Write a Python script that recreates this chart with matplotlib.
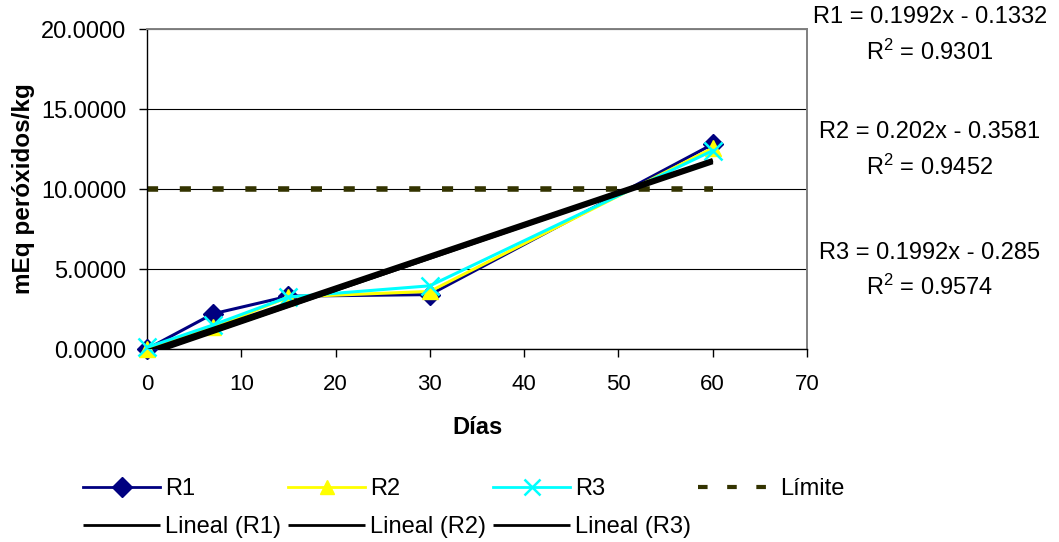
import matplotlib
matplotlib.use('Agg')
import matplotlib.pyplot as plt

# ---- data ----
dias = [0, 7, 15, 30, 60]
r1 = [0.0, 2.2, 3.3, 3.4, 12.8]
r2 = [0.0, 1.35, 3.25, 3.6, 12.55]
r3 = [0.1, 1.5, 3.25, 3.95, 12.4]
limite = [10, 10, 10, 10, 10]
series_names = ['R1', 'R2', 'R3']
trend_slopes = [0.1992, 0.202, 0.1992]
trend_intercepts = [-0.1332, -0.3581, -0.285]
r2_values = [0.9301, 0.9452, 0.9574]
yticks = [0, 5, 10, 15, 20]
xticks = [0, 10, 20, 30, 40, 50, 60, 70]

plt.rcParams['font.family'] = ['Liberation Sans', 'DejaVu Sans']
plt.rcParams['mathtext.fontset'] = 'custom'
plt.rcParams['mathtext.rm'] = 'Liberation Sans'
plt.rcParams['mathtext.it'] = 'Liberation Sans'
plt.rcParams['mathtext.default'] = 'regular'

W, H = 1059, 542
fig = plt.figure(figsize=(W / 100, H / 100), dpi=100)
ax = fig.add_axes([147 / W, 1 - 349 / H, 660 / W, 320 / H])
ax.set_xlim(0, 70)
ax.set_ylim(0, 20)

# gridlines
ax.set_yticks(yticks)
ax.set_yticklabels([f'{v:.4f}' for v in yticks], fontsize=17)
ax.set_xticks(xticks)
ax.set_xticklabels([str(v) for v in xticks], fontsize=16)
ax.yaxis.grid(True, color='black', lw=0.8)
ax.set_axisbelow(True)

# Límite
lim_line, = ax.plot(dias, limite, color='#333300', lw=4, zorder=2,
                    dash_capstyle='butt', solid_capstyle='butt')
lim_line.set_dashes([2, 3.9])

series_vals = [r1, r2, r3]
colors = ['#000080', '#FFFF00', '#00FFFF']
markers = ['D', '^', 'x']
msizes = [10, 12, 13]
lines = []
for i, (vals, c, m, ms) in enumerate(zip(series_vals, colors, markers, msizes)):
    kw = dict(color=c, lw=2.2, marker=m, markersize=ms, zorder=3 + i, clip_on=False)
    if m == 'x':
        kw['markeredgewidth'] = 1.8
    else:
        kw['markeredgecolor'] = c
        kw['markerfacecolor'] = c
    ln, = ax.plot(dias, vals, **kw)
    lines.append(ln)

trends = []
for s, b in zip(trend_slopes, trend_intercepts):
    xs = [dias[0], dias[-1]]
    ys = [s * x + b for x in xs]
    tl, = ax.plot(xs, ys, color='black', lw=2.8, zorder=7, solid_capstyle='butt')
    trends.append(tl)

# spines & ticks
for sp in ['left', 'bottom']:
    ax.spines[sp].set_color('black')
    ax.spines[sp].set_linewidth(1.0)
for sp in ['top', 'right']:
    ax.spines[sp].set_color('#808080')
    ax.spines[sp].set_linewidth(1.4)
ax.tick_params(axis='both', direction='out', length=6, width=1, color='black')
ax.tick_params(axis='y', pad=9)
ax.tick_params(axis='x', pad=12)

ax.set_xlabel('Días', fontsize=17, fontweight='bold')
ax.xaxis.set_label_coords(0.5, -(427 - 349) / 320)
ax.xaxis.label.set_va('center')
ax.set_ylabel('mEq peróxidos/kg', fontsize=17.5, fontweight='bold')
ax.yaxis.set_label_coords(-(147 - 23) / 660, 0.5)
ax.yaxis.label.set_va('center')

# trend equations
eq_y = [(17, 52), (132, 167), (253, 287)]
for name, s, b, r2v, (y1, y2) in zip(series_names, trend_slopes, trend_intercepts, r2_values, eq_y):
    sign = '-' if b < 0 else '+'
    fig.text(930 / W, 1 - y1 / H, f'{name} = {s}x {sign} {abs(b)}', ha='center', va='center', fontsize=17)
    fig.text(930 / W, 1 - y2 / H, f'R$^2$ = {r2v}', ha='center', va='center', fontsize=17)

# legend
handles = [lines[0], trends[0], lines[1], trends[1], lines[2], trends[2], lim_line]
labels = ['R1', 'Lineal (R1)', 'R2', 'Lineal (R2)', 'R3', 'Lineal (R3)', 'Límite']
leg = fig.legend(handles, labels, ncol=4, loc='upper left',
                 bbox_to_anchor=(83 / W, 1 - 478 / H), frameon=False, fontsize=17,
                 handlelength=3.27, handletextpad=0.2, columnspacing=0.3,
                 labelspacing=0.68, borderpad=0, borderaxespad=0, numpoints=1)
for h, lbl in zip(leg.legend_handles, labels):
    if lbl.startswith('Lineal'):
        h.set_linewidth(2.0)
    elif lbl == 'Límite':
        h.set_linewidth(3.0)
        h.set_dashes([2.3, 4.7])
    else:
        h.set_linewidth(2.0)
        h.set_markersize(10 if lbl != 'R3' else 12)

fig.savefig('out.png', dpi=100)
